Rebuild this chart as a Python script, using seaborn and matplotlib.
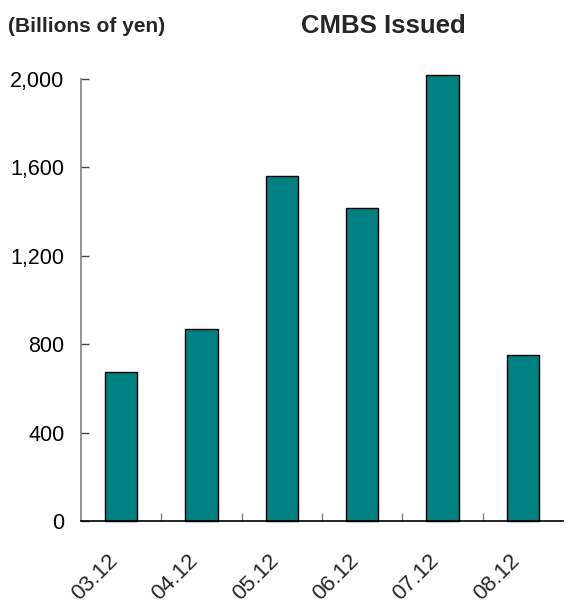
import matplotlib
matplotlib.use("Agg")
import matplotlib.pyplot as plt
import matplotlib.transforms as mtransforms
import seaborn as sns
import pandas as pd
from matplotlib.ticker import FuncFormatter, FixedLocator

categories = ["03.12", "04.12", "05.12", "06.12", "07.12", "08.12"]
values = [672, 870, 1560, 1415, 2018, 752]
yticks = [0, 400, 800, 1200, 1600, 2000]

sns.set_style("white")
plt.rcParams["font.family"] = ["Liberation Sans", "DejaVu Sans"]

df = pd.DataFrame({"period": categories, "value": values})

fig = plt.figure(figsize=(5.71, 6.06), dpi=100)
ax = fig.add_axes([0.1419, 0.1403, 0.986 - 0.1419, 0.8696 - 0.1403])

sns.barplot(data=df, x="period", y="value", color="#008080", saturation=1,
            edgecolor="black", linewidth=1.0, width=0.4, ax=ax)
for p in ax.patches:
    p.set_clip_on(False)

ax.set_xlim(-0.5, 5.5)
ax.set_ylim(0, 2000)
ax.set_yticks(yticks)
ax.yaxis.set_major_formatter(FuncFormatter(lambda v, pos: f"{int(v):,}"))
ax.set_xlabel("")
ax.set_ylabel("")

for s in ["top", "right"]:
    ax.spines[s].set_visible(False)
ax.spines["left"].set_color("#808080")
ax.spines["left"].set_linewidth(1.2)
ax.spines["bottom"].set_color("black")
ax.spines["bottom"].set_linewidth(1.2)

ax.tick_params(axis="y", which="major", left=True, direction="in", length=6, width=1,
               color="#444444", labelsize=15.5, pad=12, labelcolor="black")
ax.tick_params(axis="x", which="major", bottom=True, length=0, labelsize=16, pad=18)
ax.xaxis.set_minor_locator(FixedLocator([0.5, 1.5, 2.5, 3.5, 4.5]))
ax.tick_params(axis="x", which="minor", bottom=True, direction="in", length=6,
               width=1, color="#808080")
offset = mtransforms.ScaledTranslation(-0.14, -0.04, fig.dpi_scale_trans)
for lab in ax.get_xticklabels():
    lab.set_rotation(45)
    lab.set_ha("right")
    lab.set_rotation_mode("anchor")
    lab.set_transform(lab.get_transform() + offset)

fig.text(0.014, 0.957, "(Billions of yen)", fontsize=15, fontweight="bold",
         ha="left", va="center")
fig.text(0.671, 0.957, "CMBS Issued", fontsize=18.5, fontweight="bold",
         ha="center", va="center")

fig.savefig("out.png", dpi=100)
